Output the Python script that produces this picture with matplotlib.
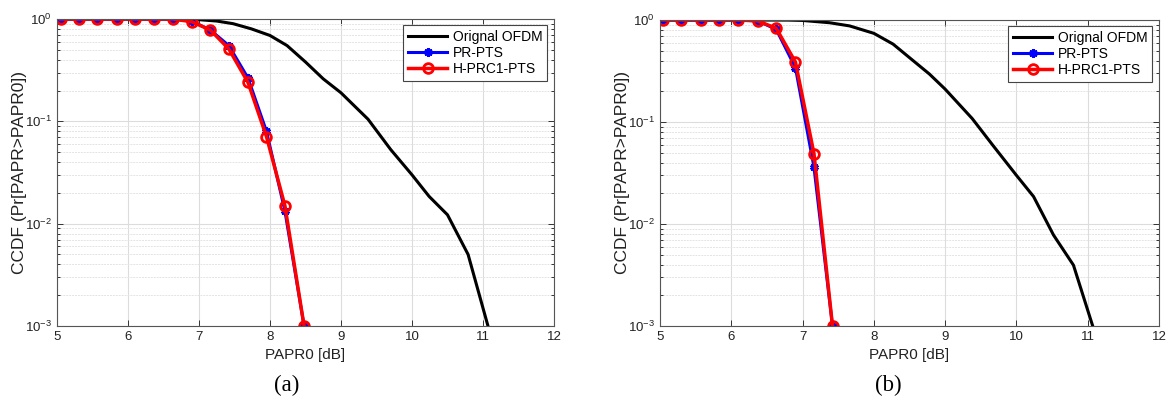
import numpy as np
import matplotlib
matplotlib.use('Agg')
import matplotlib.pyplot as plt
from matplotlib.ticker import LogLocator, NullFormatter

plt.rcParams['font.family'] = ['Liberation Sans', 'DejaVu Sans']
plt.rcParams['mathtext.default'] = 'regular'

# ---- data ----
# (a)
ofdm_x_a = [5.0, 6.0, 6.8, 7.0, 7.25, 7.48, 7.74, 8.0, 8.24, 8.5, 8.75, 9.0, 9.2, 9.38,
            9.7, 10.0, 10.24, 10.5, 10.79, 11.07]
ofdm_y_a = [1.0, 1.0, 0.998, 0.985, 0.955, 0.90, 0.80, 0.69, 0.55, 0.38, 0.26, 0.19, 0.139, 0.105,
            0.053, 0.030, 0.0185, 0.0122, 0.005, 0.001]
pts_x_a = [5.05, 5.31, 5.57, 5.84, 6.10, 6.37, 6.63, 6.90, 7.16, 7.42, 7.69, 7.95, 8.21, 8.48]
pr_a = [1.0, 1.0, 1.0, 1.0, 1.0, 1.0, 1.0, 0.95, 0.78, 0.55, 0.265, 0.080, 0.0133, 0.001]
hprc_a = [1.0, 1.0, 1.0, 1.0, 1.0, 1.0, 1.0, 0.94, 0.78, 0.51, 0.24, 0.071, 0.015, 0.001]
# (b)
ofdm_x_b = [5.0, 6.0, 6.8, 7.0, 7.38, 7.66, 8.0, 8.27, 8.55, 8.78, 9.0, 9.38, 9.67, 10.0,
            10.24, 10.52, 10.8, 11.07]
ofdm_y_b = [1.0, 1.0, 0.998, 0.99, 0.94, 0.875, 0.74, 0.58, 0.40, 0.295, 0.21, 0.108, 0.059, 0.030,
            0.0186, 0.0078, 0.00395, 0.001]
pts_x_b = [5.04, 5.30, 5.57, 5.83, 6.10, 6.37, 6.63, 6.90, 7.16, 7.42]
pr_b = [1.0, 1.0, 1.0, 1.0, 1.0, 0.98, 0.81, 0.34, 0.036, 0.001]
hprc_b = [1.0, 1.0, 1.0, 1.0, 1.0, 0.98, 0.83, 0.387, 0.049, 0.001]

labels = ['Orignal OFDM', 'PR-PTS', 'H-PRC1-PTS']
panels = [('(a)', ofdm_x_a, ofdm_y_a, pts_x_a, pr_a, hprc_a),
          ('(b)', ofdm_x_b, ofdm_y_b, pts_x_b, pr_b, hprc_b)]

W, H = 1171, 401
fig = plt.figure(figsize=(W / 100, H / 100), dpi=100)
# axes boxes in pixels: left, top, width, height
boxes = [(57, 19, 497, 307), (660, 20, 499, 306)]
caption_x = [287, 888]

for ip in range(len(panels)):
    name, ox, oy, px, pr, hp = panels[ip]
    l, t, w, h = boxes[ip]
    ax = fig.add_axes([l / W, (H - t - h) / H, w / W, h / H])
    ax.plot(ox, oy, '-', color='black', lw=2.2, label=labels[0])
    ax.plot(px, pr, '-', color='blue', lw=2.2, marker=(6, 2, 0), markersize=6,
            markeredgewidth=2.2, markeredgecolor='blue', label=labels[1])
    ax.plot(px, hp, '-', color='red', lw=2.5, marker='o', markersize=7,
            markeredgewidth=2, markerfacecolor='none', markeredgecolor='red', label=labels[2])
    ax.set_yscale('log')
    ax.set_xlim(5, 12)
    ax.set_ylim(1e-3, 1)
    ax.set_xticks(np.arange(5, 13, 1))
    ax.yaxis.set_major_locator(LogLocator(base=10, numticks=10))
    ax.yaxis.set_minor_locator(LogLocator(base=10, subs=np.arange(2, 10), numticks=20))
    ax.yaxis.set_minor_formatter(NullFormatter())
    ax.grid(True, which='major', color='#dcdcdc', lw=0.8)
    ax.grid(True, which='minor', axis='y', color='#e4e4e4', lw=0.7, ls=(0, (2, 1)))
    ax.set_axisbelow(True)
    ax.tick_params(which='both', direction='in', top=True, right=True, colors='#333333',
                   labelcolor='#222222', labelsize=9.5, width=0.7)
    ax.tick_params(which='major', length=4)
    ax.tick_params(which='minor', length=2)
    for sp in ax.spines.values():
        sp.set_color('#555555')
        sp.set_linewidth(0.8)
    ax.set_xlabel('PAPR0 [dB]', fontsize=11, color='#222222')
    ax.xaxis.set_label_coords(0.5, -0.072)
    ax.set_ylabel('CCDF (Pr[PAPR>PAPR0])', fontsize=12.5, color='#222222')
    ax.yaxis.set_label_coords(-0.06, 0.5)
    leg = ax.legend(loc='upper right', bbox_to_anchor=(1 - 7 / w, 1 - 6 / h), borderaxespad=0,
                    fontsize=10, fancybox=False, framealpha=1, edgecolor='#444444',
                    handlelength=2.8, handletextpad=0.4, labelspacing=0.15, borderpad=0.35)
    leg.get_frame().set_linewidth(0.8)
    fig.text(caption_x[ip] / W, 1 - 385 / H, name, fontsize=16.5, ha='center', va='center',
             family=['Liberation Serif', 'DejaVu Serif'])

fig.savefig('out.png', dpi=100)
